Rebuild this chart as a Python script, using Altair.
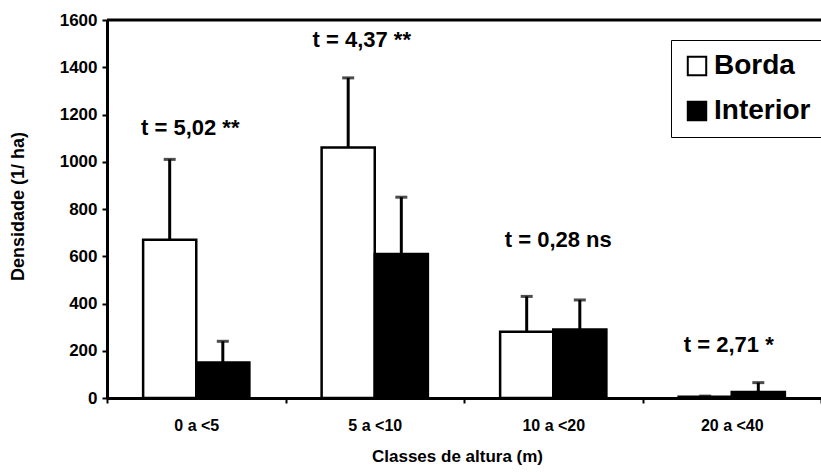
import altair as alt
import pandas as pd

categorias = ["0 a <5", "5 a <10", "10 a <20", "20 a <40"]
series = ["Borda", "Interior"]
borda = [670, 1060, 280, 5]
borda_err = [1010, 1355, 430, 8]
interior = [150, 610, 290, 25]
interior_err = [240, 850, 415, 65]

anot_textos = ["t = 5,02 **", "t = 4,37 **", "t = 0,28 ns", "t = 2,71 *"]
anot_y = [1143, 1515, 669, 224]
anot_dx = [-6, -13, 5, -3]

rows = []
for i, c in enumerate(categorias):
    rows.append({"cat": c, "serie": "Borda", "v": borda[i], "e": borda_err[i]})
    rows.append({"cat": c, "serie": "Interior", "v": interior[i], "e": interior_err[i]})
df = pd.DataFrame(rows)
ann = pd.DataFrame({"cat": categorias, "txt": anot_textos, "y": anot_y, "dx": anot_dx})

FONT = "Liberation Sans"
W, H = 714, 378
STEP = W / len(categorias)

xenc = alt.X("cat:N", sort=categorias,
             scale=alt.Scale(paddingInner=0, paddingOuter=0),
             axis=alt.Axis(title="Classes de altura (m)", labelAngle=0, tickBand="extent",
                           titleX=350, titleY=58, titleBaseline="middle",
                           labelPadding=14, tickSize=5))
yscale = alt.Scale(domain=[0, 1600], nice=False)
yenc = alt.Y("v:Q", scale=yscale,
             axis=alt.Axis(title="Densidade (1/ ha)", values=list(range(0, 1601, 200)),
                           format="d", grid=False, tickSize=5, labelPadding=5,
                           labelFontSize=17, titleFontSize=18,
                           titleX=-89, titleY=186, titleBaseline="middle", titleAngle=-90))
xoff = alt.XOffset("serie:N", sort=series, scale=alt.Scale(paddingOuter=0.68, paddingInner=0))

base = alt.Chart(df)

bars = base.mark_bar(stroke="black", strokeWidth=2.5).encode(
    x=xenc, xOffset=xoff, y=yenc,
    fill=alt.Fill("serie:N", sort=series,
                  scale=alt.Scale(domain=series, range=["white", "black"]),
                  legend=alt.Legend(title=None, orient="none", legendX=564, legendY=20,
                                    symbolType="square", symbolSize=340,
                                    symbolStrokeColor="black", symbolStrokeWidth=2,
                                    labelFontSize=28, labelFont=FONT, labelFontWeight="bold",
                                    labelColor="black", rowPadding=17, labelOffset=3,
                                    padding=12, strokeColor="black")),
)

err = base.mark_rule(color="black", strokeWidth=3).encode(
    x=alt.X("cat:N", sort=categorias), xOffset=xoff,
    y=alt.Y("v:Q", scale=yscale), y2="e:Q",
)
caps = base.mark_tick(color="black", thickness=3, size=12).encode(
    x=alt.X("cat:N", sort=categorias), xOffset=xoff,
    y=alt.Y("e:Q", scale=yscale),
)

texts = alt.Chart(ann).transform_calculate(
    off=f"datum.dx + {STEP / 2}"
).mark_text(font=FONT, fontWeight="bold", fontSize=22,
            color="black", baseline="middle", align="center").encode(
    x=alt.X("cat:N", sort=categorias),
    y=alt.Y("y:Q", scale=yscale),
    text="txt:N",
    xOffset=alt.XOffset("off:Q", scale=None),
)

topline = alt.Chart(pd.DataFrame({"t": [1600]})).mark_rule(color="black", strokeWidth=3).encode(
    y=alt.Y("t:Q", scale=yscale), x=alt.value(0), x2=alt.value(W),
)

chart = alt.layer(bars, err, caps, texts, topline).properties(
    width=W, height=H,
    autosize=alt.AutoSizeParams(type="none"),
    padding={"left": 107, "top": 20, "right": 0, "bottom": 74},
).configure_view(stroke=None).configure_axis(
    domainColor="black", domainWidth=3, tickColor="black", tickWidth=2,
    labelFont=FONT, labelFontWeight="bold", labelFontSize=16, labelColor="black",
    titleFont=FONT, titleFontWeight="bold", titleFontSize=17, titleColor="black",
)

chart.save("out.html", embed_options={"renderer": "svg", "actions": False})
